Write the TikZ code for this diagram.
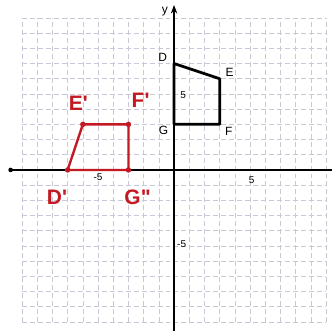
\documentclass[tikz,border=0pt]{standalone}
\usepackage{fontspec}
\setmainfont{Liberation Sans}
\usepackage{xcolor}
\usetikzlibrary{arrows.meta,positioning}
\definecolor{penred}{RGB}{195,25,35}
\definecolor{gridgray}{RGB}{200,200,215}

\begin{document}
\begin{tikzpicture}[
  x=15.2bp, y=15.2bp,
  font=\small,
  gridline/.style={draw=gridgray, line width=0.6pt, dash pattern=on 5pt off 3pt},
  axis/.style={draw=black, line width=1.8pt},
  origfig/.style={draw=black, line width=2.8pt, line join=round},
  rotfig/.style={draw=penred, line width=2.4pt, line join=round},
  lbl/.style={inner sep=0pt, font=\fontsize{12}{12}\selectfont},
  tick/.style={inner sep=0pt, font=\fontsize{10}{10}\selectfont},
  rlbl/.style={inner sep=0pt, text=penred, font=\fontsize{21}{21}\selectfont\bfseries},
  vdot/.style={circle, fill=penred, inner sep=0pt, minimum size=5.5pt},
  >={Stealth[length=3mm]}]
\useasboundingbox (-11.45,-10.59) rectangle (10.39,11.18);
% grid and axes
\draw[gridline, step=1] (-10,-10) grid (10,10);
\coordinate (xl) at (-10.75,0); \coordinate (xr) at (10.39,0);
\coordinate (yb) at (0,-10.59); \coordinate (yt) at (0,10.85);
\draw[axis] (xl) -- (xr);
\draw[axis,->] (yb) -- (yt);
\fill (xl) circle (2.3pt);
\node[lbl] (ylab) at (-0.6,10.45) {y};
\node[tick] (tx5) at (5.1,-0.65) {5};
\node[tick] (txm5) at (-5.0,-0.5) {-5};
\node[tick] (ty5) at (0.6,4.9) {5};
\node[tick] (tym5) at (0.5,-4.9) {-5};
% original figure
\coordinate (D) at (0,7); \coordinate (E) at (3,6);
\coordinate (F) at (3,3); \coordinate (G) at (0,3);
\draw[origfig] (D) -- (E) -- (F) -- (G) -- cycle;
\node[lbl] (Dl) at (-0.75,7.4) {D};
\node[lbl] (El) at (3.65,6.4) {E};
\node[lbl] (Gl) at (-0.7,2.6) {G};
\node[lbl] (Fl) at (3.6,2.55) {F};
% rotated image
\node[vdot] (Dp) at (-7,0) {}; \node[vdot] (Ep) at (-6,3) {};
\node[vdot] (Fp) at (-3,3) {}; \node[vdot] (Gp) at (-3,0) {};
\draw[rotfig] (Dp.center) -- (Ep.center) -- (Fp.center) -- (Gp.center) -- cycle;
\node[rlbl] (Epl) at (-6.3,4.4) {E\textquotesingle};
\node[rlbl] (Fpl) at (-2.2,4.6) {F\textquotesingle};
\node[rlbl] (Dpl) at (-7.7,-1.8) {D\textquotesingle};
\node[rlbl] (Gpl) at (-2.4,-1.8) {G\textquotedbl};
\end{tikzpicture}
\end{document}
